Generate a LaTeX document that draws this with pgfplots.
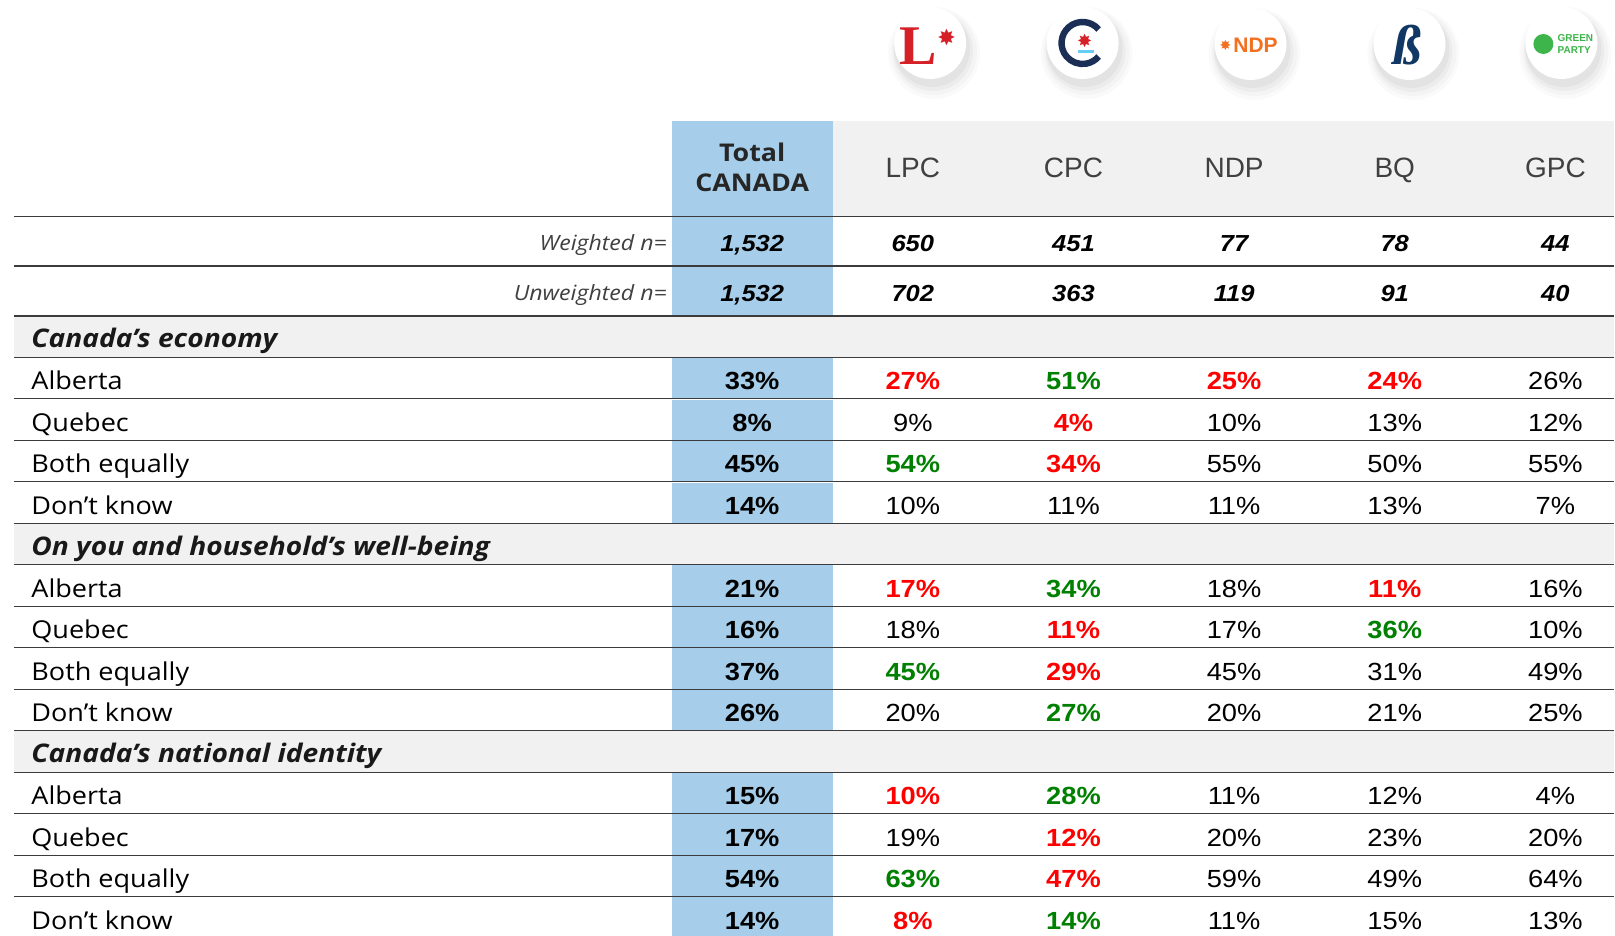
\documentclass[border=0pt]{standalone}
\usepackage{pgfplots}
\pgfplotsset{compat=1.18}
\usepackage{fontspec}
\setmainfont[FakeStretch=1.1]{Open Sans}
\newfontfamily\valfont[FakeStretch=1.1]{Liberation Sans}
\newfontfamily\hdrfont{Liberation Sans}
\newfontfamily\lserif{Liberation Serif}
\newfontfamily\symfont{DejaVu Sans}
\definecolor{colblue}{RGB}{166,206,234}
\definecolor{bandgray}{RGB}{241,241,241}
\definecolor{linegray}{RGB}{60,60,60}
\definecolor{hdrgray}{RGB}{64,64,64}
\definecolor{vred}{RGB}{255,0,0}
\definecolor{vgreen}{RGB}{0,128,0}
\definecolor{lpcred}{RGB}{214,32,39}
\definecolor{cpcnavy}{RGB}{26,46,86}
\definecolor{ndporange}{RGB}{243,112,33}
\definecolor{bqnavy}{RGB}{17,56,100}
\definecolor{gpcgreen}{RGB}{61,181,74}
\newcommand{\logobg}[2]{%
  \fill[black,opacity=0.02] ([shift={(2pt,-5pt)}]axis cs:#1,#2) circle[radius=23pt];
  \fill[black,opacity=0.025] ([shift={(2pt,-4.5pt)}]axis cs:#1,#2) circle[radius=21.5pt];
  \fill[black,opacity=0.03] ([shift={(1.5pt,-4pt)}]axis cs:#1,#2) circle[radius=20pt];
  \fill[black,opacity=0.035] ([shift={(1pt,-3pt)}]axis cs:#1,#2) circle[radius=19pt];
  \fill[white] (axis cs:#1,#2) circle[radius=18pt];
}
\newcommand{\rowlab}[2]{%
  \node[font=\fontsize{12.3}{14}\selectfont, anchor=base west, inner sep=0pt, yshift=-5.9pt] at (axis cs:31,#1) {#2};
}
\newcommand{\rline}[1]{%
  \draw[linegray, line width=0.65pt] (axis cs:14,#1) -- (axis cs:1615,#1);
}
\pgfplotsset{
  cellstyle/.style={draw=none, mark=none, point meta=explicit,
    nodes near coords={\pgfmathprintnumber{\pgfplotspointmeta}\%},
    every node near coord/.append style={anchor=base, yshift=-5.9pt, inner sep=0pt}},
}
\begin{document}
\begin{tikzpicture}
\begin{axis}[
  scale only axis, width=807.5pt, height=468pt,
  xmin=0, xmax=1615, ymin=0, ymax=936, y dir=reverse,
  hide axis, clip=false,
  /pgf/number format/assume math mode=true,
]
% background
\fill[white] (axis cs:0,0) rectangle (axis cs:1615,936);
% header gray band
\fill[bandgray] (axis cs:833,121) rectangle (axis cs:1615,216.5);
% section bands
\fill[bandgray] (axis cs:14,316) rectangle (axis cs:1615,357.5);
\fill[bandgray] (axis cs:14,523.5) rectangle (axis cs:1615,565);
\fill[bandgray] (axis cs:14,731) rectangle (axis cs:1615,772.5);
% row lines
\rline{216.5}\rline{266}\rline{316}\rline{357.5}\rline{399}\rline{440.5}\rline{482}
\rline{523.5}\rline{565}\rline{606.5}\rline{648}\rline{689.5}\rline{731}\rline{772.5}
\rline{814}\rline{855.5}\rline{897}
% blue total column
\fill[colblue] (axis cs:672,121) rectangle (axis cs:833,216);
\fill[colblue] (axis cs:672,217.2) rectangle (axis cs:833,265.5);
\fill[colblue] (axis cs:672,266.7) rectangle (axis cs:833,315.5);
\fill[colblue] (axis cs:672,358.2) rectangle (axis cs:833,398.5);
\fill[colblue] (axis cs:672,399.7) rectangle (axis cs:833,440);
\fill[colblue] (axis cs:672,441.2) rectangle (axis cs:833,481.5);
\fill[colblue] (axis cs:672,482.7) rectangle (axis cs:833,523);
\fill[colblue] (axis cs:672,565.7) rectangle (axis cs:833,606);
\fill[colblue] (axis cs:672,607.2) rectangle (axis cs:833,647.5);
\fill[colblue] (axis cs:672,648.7) rectangle (axis cs:833,689);
\fill[colblue] (axis cs:672,690.2) rectangle (axis cs:833,730.5);
\fill[colblue] (axis cs:672,773.2) rectangle (axis cs:833,813.5);
\fill[colblue] (axis cs:672,814.7) rectangle (axis cs:833,855);
\fill[colblue] (axis cs:672,856.2) rectangle (axis cs:833,896.5);
\fill[colblue] (axis cs:672,897.7) rectangle (axis cs:833,936);

% logos
\logobg{930.5}{43}
\logobg{1083}{43}
\logobg{1251}{44}
\logobg{1410}{44}
\logobg{1562}{43}
\node[text=lpcred, font=\lserif\bfseries\fontsize{28}{28}\selectfont, inner sep=0pt] at (axis cs:919,46) {L};
\node[text=lpcred, font=\symfont\fontsize{11}{11}\selectfont, inner sep=0pt] at (axis cs:947,38) {✸};
\draw[cpcnavy, line width=3.2pt] (axis cs:1083,43) ++(40:10.5pt) arc[start angle=40, end angle=320, radius=10.5pt];
\node[text=lpcred, font=\symfont\fontsize{9}{9}\selectfont, inner sep=0pt] at (axis cs:1085,41) {✸};
\fill[cyan!60!white] (axis cs:1078,50) rectangle (axis cs:1094,53);
\node[text=ndporange, font=\hdrfont\bfseries\fontsize{10.5}{10.5}\selectfont, inner sep=0pt] at (axis cs:1256,45) {NDP};
\node[text=ndporange, font=\symfont\fontsize{7}{7}\selectfont, inner sep=0pt] at (axis cs:1226,45) {✸};
\node[text=bqnavy, font=\lserif\bfseries\itshape\fontsize{28}{28}\selectfont, inner sep=0pt] at (axis cs:1408,45) {ß};
\fill[gpcgreen] (axis cs:1544,44) circle[radius=5pt];
\node[text=gpcgreen, font=\hdrfont\bfseries\fontsize{5}{5.6}\selectfont, align=left, inner sep=0pt] at (axis cs:1576,44) {GREEN\\PARTY};

% headers
\node[font=\bfseries\fontsize{12.2}{14}\selectfont, text=black!85, inner sep=0pt] at (axis cs:752.5,152.5) {Total};
\node[font=\bfseries\fontsize{12.2}{14}\selectfont, text=black!85, inner sep=0pt] at (axis cs:752.5,182.5) {CANADA};
\node[font=\hdrfont\fontsize{14}{16}\selectfont, text=hdrgray, anchor=base, inner sep=0pt] at (axis cs:913.2,178) {LPC};
\node[font=\hdrfont\fontsize{14}{16}\selectfont, text=hdrgray, anchor=base, inner sep=0pt] at (axis cs:1073.9,178) {CPC};
\node[font=\hdrfont\fontsize{14}{16}\selectfont, text=hdrgray, anchor=base, inner sep=0pt] at (axis cs:1234.6,178) {NDP};
\node[font=\hdrfont\fontsize{14}{16}\selectfont, text=hdrgray, anchor=base, inner sep=0pt] at (axis cs:1395.3,178) {BQ};
\node[font=\hdrfont\fontsize{14}{16}\selectfont, text=hdrgray, anchor=base, inner sep=0pt] at (axis cs:1556,178) {GPC};

% n rows labels
\node[font=\itshape\fontsize{10.5}{13}\selectfont, text=hdrgray, anchor=base east, inner sep=0pt] at (axis cs:667.5,251) {Weighted n=};
\node[font=\itshape\fontsize{10.5}{13}\selectfont, text=hdrgray, anchor=base east, inner sep=0pt] at (axis cs:667.5,301) {Unweighted n=};

% section headers
\node[font=\bfseries\itshape\fontsize{12.8}{15}\selectfont, text=black!90, anchor=base west, inner sep=0pt] at (axis cs:31,348) {Canada’s economy};
\node[font=\bfseries\itshape\fontsize{12.8}{15}\selectfont, text=black!90, anchor=base west, inner sep=0pt] at (axis cs:31,555.5) {On you and household’s well-being};
\node[font=\bfseries\itshape\fontsize{12.8}{15}\selectfont, text=black!90, anchor=base west, inner sep=0pt] at (axis cs:31,763) {Canada’s national identity};

% row labels
\rowlab{378.25}{Alberta}\rowlab{419.75}{Quebec}\rowlab{461.25}{Both equally}\rowlab{502.75}{Don’t know}
\rowlab{585.75}{Alberta}\rowlab{627.25}{Quebec}\rowlab{668.75}{Both equally}\rowlab{710.25}{Don’t know}
\rowlab{793.25}{Alberta}\rowlab{834.75}{Quebec}\rowlab{876.25}{Both equally}\rowlab{917.75}{Don’t know}

% n values
\addplot[draw=none, mark=none, point meta=explicit,
  nodes near coords={\pgfmathprintnumber{\pgfplotspointmeta}},
  every node near coord/.append style={anchor=base, yshift=-5.2pt, inner sep=0pt,
    font=\valfont\bfseries\itshape\fontsize{11.6}{13}\selectfont}]
coordinates {
(752.5,241.25)[1532] (913.2,241.25)[650] (1073.9,241.25)[451] (1234.6,241.25)[77] (1395.3,241.25)[78] (1556,241.25)[44]
(752.5,291)[1532] (913.2,291)[702] (1073.9,291)[363] (1234.6,291)[119] (1395.3,291)[91] (1556,291)[40]
};

% Total column (bold black)
\addplot[cellstyle, every node near coord/.append style={font=\valfont\bfseries\fontsize{12.4}{14}\selectfont, text=black}]
coordinates {
(752.5,378.25)[33] (752.5,419.75)[8] (752.5,461.25)[45] (752.5,502.75)[14]
(752.5,585.75)[21] (752.5,627.25)[16] (752.5,668.75)[37] (752.5,710.25)[26]
(752.5,793.25)[15] (752.5,834.75)[17] (752.5,876.25)[54] (752.5,917.75)[14]
};

% red (bold)
\addplot[cellstyle, every node near coord/.append style={font=\valfont\bfseries\fontsize{12.4}{14}\selectfont, text=vred}]
coordinates {
(913.2,378.25)[27] (1234.6,378.25)[25] (1395.3,378.25)[24]
(1073.9,419.75)[4]
(1073.9,461.25)[34]
(913.2,585.75)[17] (1395.3,585.75)[11]
(1073.9,627.25)[11]
(1073.9,668.75)[29]
(913.2,793.25)[10]
(1073.9,834.75)[12]
(1073.9,876.25)[47]
(913.2,917.75)[8]
};

% green (bold)
\addplot[cellstyle, every node near coord/.append style={font=\valfont\bfseries\fontsize{12.4}{14}\selectfont, text=vgreen}]
coordinates {
(1073.9,378.25)[51]
(913.2,461.25)[54]
(1073.9,585.75)[34]
(1395.3,627.25)[36]
(913.2,668.75)[45]
(1073.9,710.25)[27]
(1073.9,793.25)[28]
(913.2,876.25)[63]
(1073.9,917.75)[14]
};

% regular black
\addplot[cellstyle, every node near coord/.append style={font=\valfont\fontsize{12.4}{14}\selectfont, text=black}]
coordinates {
(1556,378.25)[26]
(913.2,419.75)[9] (1234.6,419.75)[10] (1395.3,419.75)[13] (1556,419.75)[12]
(1234.6,461.25)[55] (1395.3,461.25)[50] (1556,461.25)[55]
(913.2,502.75)[10] (1073.9,502.75)[11] (1234.6,502.75)[11] (1395.3,502.75)[13] (1556,502.75)[7]
(1234.6,585.75)[18] (1556,585.75)[16]
(913.2,627.25)[18] (1234.6,627.25)[17] (1556,627.25)[10]
(1234.6,668.75)[45] (1395.3,668.75)[31] (1556,668.75)[49]
(913.2,710.25)[20] (1234.6,710.25)[20] (1395.3,710.25)[21] (1556,710.25)[25]
(1234.6,793.25)[11] (1395.3,793.25)[12] (1556,793.25)[4]
(913.2,834.75)[19] (1234.6,834.75)[20] (1395.3,834.75)[23] (1556,834.75)[20]
(1234.6,876.25)[59] (1395.3,876.25)[49] (1556,876.25)[64]
(1234.6,917.75)[11] (1395.3,917.75)[15] (1556,917.75)[13]
};
\end{axis}
\end{tikzpicture}
\end{document}
